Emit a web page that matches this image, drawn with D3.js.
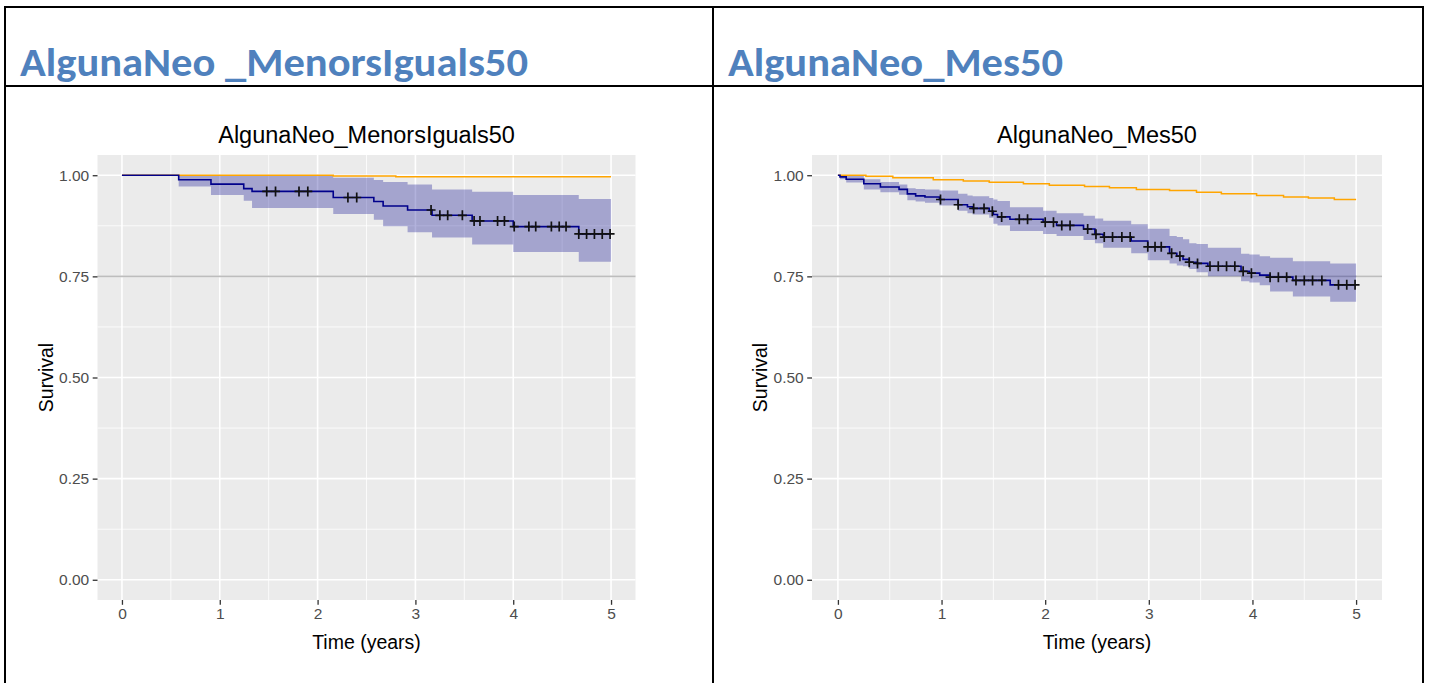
<!DOCTYPE html>
<html>
<head>
<meta charset="utf-8">
<script src="https://cdn.jsdelivr.net/npm/d3@7"></script>
<style>
  body { margin: 0; background: #fff; }
  svg { display: block; }
</style>
</head>
<body>
<svg id="chart" width="1429" height="683"></svg>
<script>
// ---- data ----
const xTicks = [0, 1, 2, 3, 4, 5];
const yTicks = [0, 0.25, 0.5, 0.75, 1];

// AlgunaNeo_MenorsIguals50
const menorsTime  = [0, 0.58, 0.91, 1.245, 1.33, 2.16, 2.575, 2.67, 2.92, 3.17, 3.58, 4.0, 4.67];
const menorsSurv  = [1, 0.989, 0.978, 0.967, 0.960, 0.945, 0.935, 0.924, 0.914, 0.901, 0.887, 0.873, 0.855];
const menorsLower = [1, 0.972, 0.951, 0.937, 0.919, 0.904, 0.890, 0.874, 0.859, 0.846, 0.829, 0.810, 0.786];
const menorsUpper = [1, 1.0, 1.0, 0.999, 0.998, 0.994, 0.988, 0.983, 0.977, 0.965, 0.959, 0.951, 0.941];
const menorsCensor = [1.48, 1.57, 1.81, 1.90, 2.31, 2.40, 3.16, 3.25, 3.33, 3.48, 3.60, 3.66, 3.84, 3.91,
                      4.01, 4.16, 4.23, 4.39, 4.47, 4.54, 4.67, 4.75, 4.83, 4.91, 4.99];
const menorsExpTime = [0, 2.16, 2.8];
const menorsExpSurv = [1, 0.998, 0.996];

// AlgunaNeo_Mes50
const mesTime  = [0, 0.02, 0.08, 0.25, 0.41, 0.59, 0.67, 0.75, 0.84, 0.98, 1.16, 1.25, 1.30, 1.46, 1.50, 1.54,
                  1.66, 1.98, 2.11, 2.37, 2.48, 2.56, 2.83, 2.99, 3.20, 3.27, 3.33, 3.39, 3.46, 3.57, 3.89,
                  3.97, 4.07, 4.17, 4.39, 4.75];
const mesSurv  = [1, 0.996, 0.990, 0.979, 0.971, 0.965, 0.954, 0.949, 0.946, 0.940, 0.927, 0.922, 0.918, 0.911,
                  0.903, 0.897, 0.891, 0.884, 0.876, 0.867, 0.854, 0.847, 0.8375, 0.823, 0.807, 0.800, 0.792,
                  0.785, 0.782, 0.775, 0.7625, 0.758, 0.753, 0.748, 0.740, 0.729];
const mesLower = [1, 0.990, 0.982, 0.965, 0.958, 0.952, 0.938, 0.935, 0.932, 0.925, 0.912, 0.906, 0.903, 0.895,
                  0.880, 0.876, 0.862, 0.855, 0.850, 0.840, 0.832, 0.821, 0.807, 0.790, 0.782, 0.777, 0.775,
                  0.768, 0.760, 0.750, 0.738, 0.735, 0.728, 0.7125, 0.700, 0.6875];
const mesUpper = [1, 1.0, 0.998, 0.990, 0.983, 0.977, 0.968, 0.966, 0.965, 0.962, 0.954, 0.950, 0.948, 0.944,
                  0.940, 0.936, 0.921, 0.912, 0.906, 0.900, 0.893, 0.8875, 0.879, 0.868, 0.850, 0.847, 0.842,
                  0.832, 0.830, 0.821, 0.806, 0.804, 0.800, 0.796, 0.7875, 0.782];
const mesCensor = [0.99, 1.16, 1.31, 1.41, 1.49, 1.58, 1.75, 1.83, 2.00, 2.08, 2.16, 2.24, 2.41, 2.49, 2.57,
                   2.65, 2.74, 2.82, 2.99, 3.06, 3.12, 3.22, 3.30, 3.39, 3.47, 3.59, 3.67, 3.75, 3.83, 3.91,
                   3.99, 4.17, 4.25, 4.33, 4.42, 4.50, 4.58, 4.67, 4.83, 4.91, 4.99];
const mesExpTime = [0, 0.27, 0.53, 0.92, 1.21, 1.46, 1.79, 2.04, 2.38, 2.62, 2.88, 3.20, 3.46, 3.70, 4.04, 4.30, 4.54, 4.79];
const mesExpSurv = [1, 0.9975, 0.9935, 0.989, 0.986, 0.9825, 0.979, 0.975, 0.972, 0.969, 0.965, 0.9625, 0.958,
                    0.954, 0.950, 0.946, 0.9435, 0.940];

const tEnd = 5;

const svg = d3.select('#chart');

// ---- table frame and headings ----
let frame = svg.append('g').attr('stroke', '#000').attr('stroke-width', 2);
frame.append('line').attr('x1', 5).attr('x2', 1423).attr('y1', 7).attr('y2', 7);
frame.append('line').attr('x1', 5).attr('x2', 1423).attr('y1', 86).attr('y2', 86);
frame.append('line').attr('x1', 5).attr('x2', 5).attr('y1', 6).attr('y2', 683);
frame.append('line').attr('x1', 713).attr('x2', 713).attr('y1', 6).attr('y2', 683);
frame.append('line').attr('x1', 1423).attr('x2', 1423).attr('y1', 6).attr('y2', 683);

const headings = [
  {text: 'AlgunaNeo _MenorsIguals50', x: 20, len: 508},
  {text: 'AlgunaNeo_Mes50', x: 728, len: 335}
];
svg.selectAll('.heading').data(headings)
  .enter().append('text')
  .attr('class', 'heading')
  .attr('x', d => d.x).attr('y', 76)
  .attr('textLength', d => d.len)
  .attr('lengthAdjust', 'spacingAndGlyphs')
  .style('font-family', 'Carlito, "Open Sans", sans-serif')
  .style('font-weight', 'bold')
  .style('font-size', '41px')
  .style('fill', '#4f81bd')
  .text(d => d.text);

// ---- one survival panel ----
function drawPanel(cfg) {
  const top = 155, bottom = 600;
  const x = d3.scaleLinear().domain([-0.25, 5.25]).range([cfg.left, cfg.right]);
  const y = d3.scaleLinear().domain([-0.05, 1.05]).range([bottom, top]);
  const g = svg.append('g');

  g.append('rect')
    .attr('x', cfg.left).attr('y', top)
    .attr('width', cfg.right - cfg.left).attr('height', bottom - top)
    .attr('fill', '#ebebeb');

  // minor grid
  const xMinor = [0.5, 1.5, 2.5, 3.5, 4.5];
  const yMinor = [0.125, 0.375, 0.625, 0.875];
  g.selectAll('.xminor').data(xMinor).enter().append('line')
    .attr('x1', d => x(d)).attr('x2', d => x(d)).attr('y1', top).attr('y2', bottom)
    .attr('stroke', '#fff').attr('stroke-width', 0.8);
  g.selectAll('.yminor').data(yMinor).enter().append('line')
    .attr('y1', d => y(d)).attr('y2', d => y(d)).attr('x1', cfg.left).attr('x2', cfg.right)
    .attr('stroke', '#fff').attr('stroke-width', 0.8);
  // major grid
  g.selectAll('.xmajor').data(xTicks).enter().append('line')
    .attr('x1', d => x(d)).attr('x2', d => x(d)).attr('y1', top).attr('y2', bottom)
    .attr('stroke', '#fff').attr('stroke-width', 1.6);
  g.selectAll('.ymajor').data(yTicks).enter().append('line')
    .attr('y1', d => y(d)).attr('y2', d => y(d)).attr('x1', cfg.left).attr('x2', cfg.right)
    .attr('stroke', '#fff').attr('stroke-width', 1.6);

  // reference line at 0.75
  g.append('line')
    .attr('x1', cfg.left).attr('x2', cfg.right)
    .attr('y1', y(0.75)).attr('y2', y(0.75))
    .attr('stroke', '#bdbdbd').attr('stroke-width', 1.6);

  const km = cfg.time.map((t, i) => ({t: t, s: cfg.surv[i], lo: cfg.lower[i], hi: cfg.upper[i]}));
  const kmEnd = km.concat([Object.assign({}, km[km.length - 1], {t: tEnd})]);

  // confidence band
  const band = d3.area().curve(d3.curveStepAfter)
    .x(d => x(d.t)).y0(d => y(d.lo)).y1(d => y(d.hi));
  g.append('path').datum(kmEnd)
    .attr('d', band)
    .attr('fill', 'darkblue').attr('fill-opacity', 0.3);

  // expected survival
  const exp = cfg.expTime.map((t, i) => ({t: t, s: cfg.expSurv[i]}));
  exp.push({t: tEnd, s: exp[exp.length - 1].s});
  const step = d3.line().curve(d3.curveStepAfter).x(d => x(d.t)).y(d => y(d.s));
  g.append('path').datum(exp)
    .attr('d', step)
    .attr('fill', 'none').attr('stroke', 'orange').attr('stroke-width', 1.5);

  // Kaplan-Meier
  g.append('path').datum(kmEnd)
    .attr('d', step)
    .attr('fill', 'none').attr('stroke', 'darkblue').attr('stroke-width', 1.6);

  // censor marks
  const bis = d3.bisector(d => d.t).right;
  g.selectAll('.censor').data(cfg.censor).enter().append('path')
    .attr('d', d => {
      const cx = x(d), cy = y(km[bis(km, d) - 1].s);
      return `M${cx - 4.5},${cy}h9M${cx},${cy - 5}v10`;
    })
    .attr('stroke', '#111').attr('stroke-width', 1.7).attr('fill', 'none');

  // axes
  const yAxis = d3.axisLeft(y).tickValues(yTicks).tickFormat(d3.format('.2f'))
    .tickSize(4.8).tickPadding(3.5);
  const xAxis = d3.axisBottom(x).tickValues(xTicks).tickFormat(d3.format('d'))
    .tickSize(4.8).tickPadding(3.5);
  const ya = g.append('g').attr('transform', `translate(${cfg.left},0)`).call(yAxis);
  const xa = g.append('g').attr('transform', `translate(0,${bottom})`).call(xAxis);
  [ya, xa].forEach(a => {
    a.select('.domain').remove();
    a.selectAll('line').attr('stroke', '#333').attr('stroke-width', 1.3);
    a.selectAll('text')
      .style('font-family', '"Liberation Sans", Arial, sans-serif')
      .style('font-size', '15.5px').style('fill', '#4d4d4d');
  });

  const mid = (cfg.left + cfg.right) / 2;
  g.append('text')
    .attr('x', mid).attr('y', 143).attr('text-anchor', 'middle')
    .style('font-family', '"Liberation Sans", Arial, sans-serif').style('font-size', '23.5px')
    .text(cfg.title);
  g.append('text')
    .attr('x', mid).attr('y', 649).attr('text-anchor', 'middle')
    .style('font-family', '"Liberation Sans", Arial, sans-serif').style('font-size', '19.5px')
    .text('Time (years)');
  g.append('text')
    .attr('transform', `translate(${cfg.left - 45},${(top + bottom) / 2}) rotate(-90)`)
    .attr('text-anchor', 'middle')
    .style('font-family', '"Liberation Sans", Arial, sans-serif').style('font-size', '19.5px')
    .text('Survival');
}

drawPanel({
  title: 'AlgunaNeo_MenorsIguals50', left: 97.5, right: 635.5,
  time: menorsTime, surv: menorsSurv, lower: menorsLower, upper: menorsUpper,
  censor: menorsCensor, expTime: menorsExpTime, expSurv: menorsExpSurv
});
drawPanel({
  title: 'AlgunaNeo_Mes50', left: 812, right: 1382,
  time: mesTime, surv: mesSurv, lower: mesLower, upper: mesUpper,
  censor: mesCensor, expTime: mesExpTime, expSurv: mesExpSurv
});
</script>
</body>
</html>
